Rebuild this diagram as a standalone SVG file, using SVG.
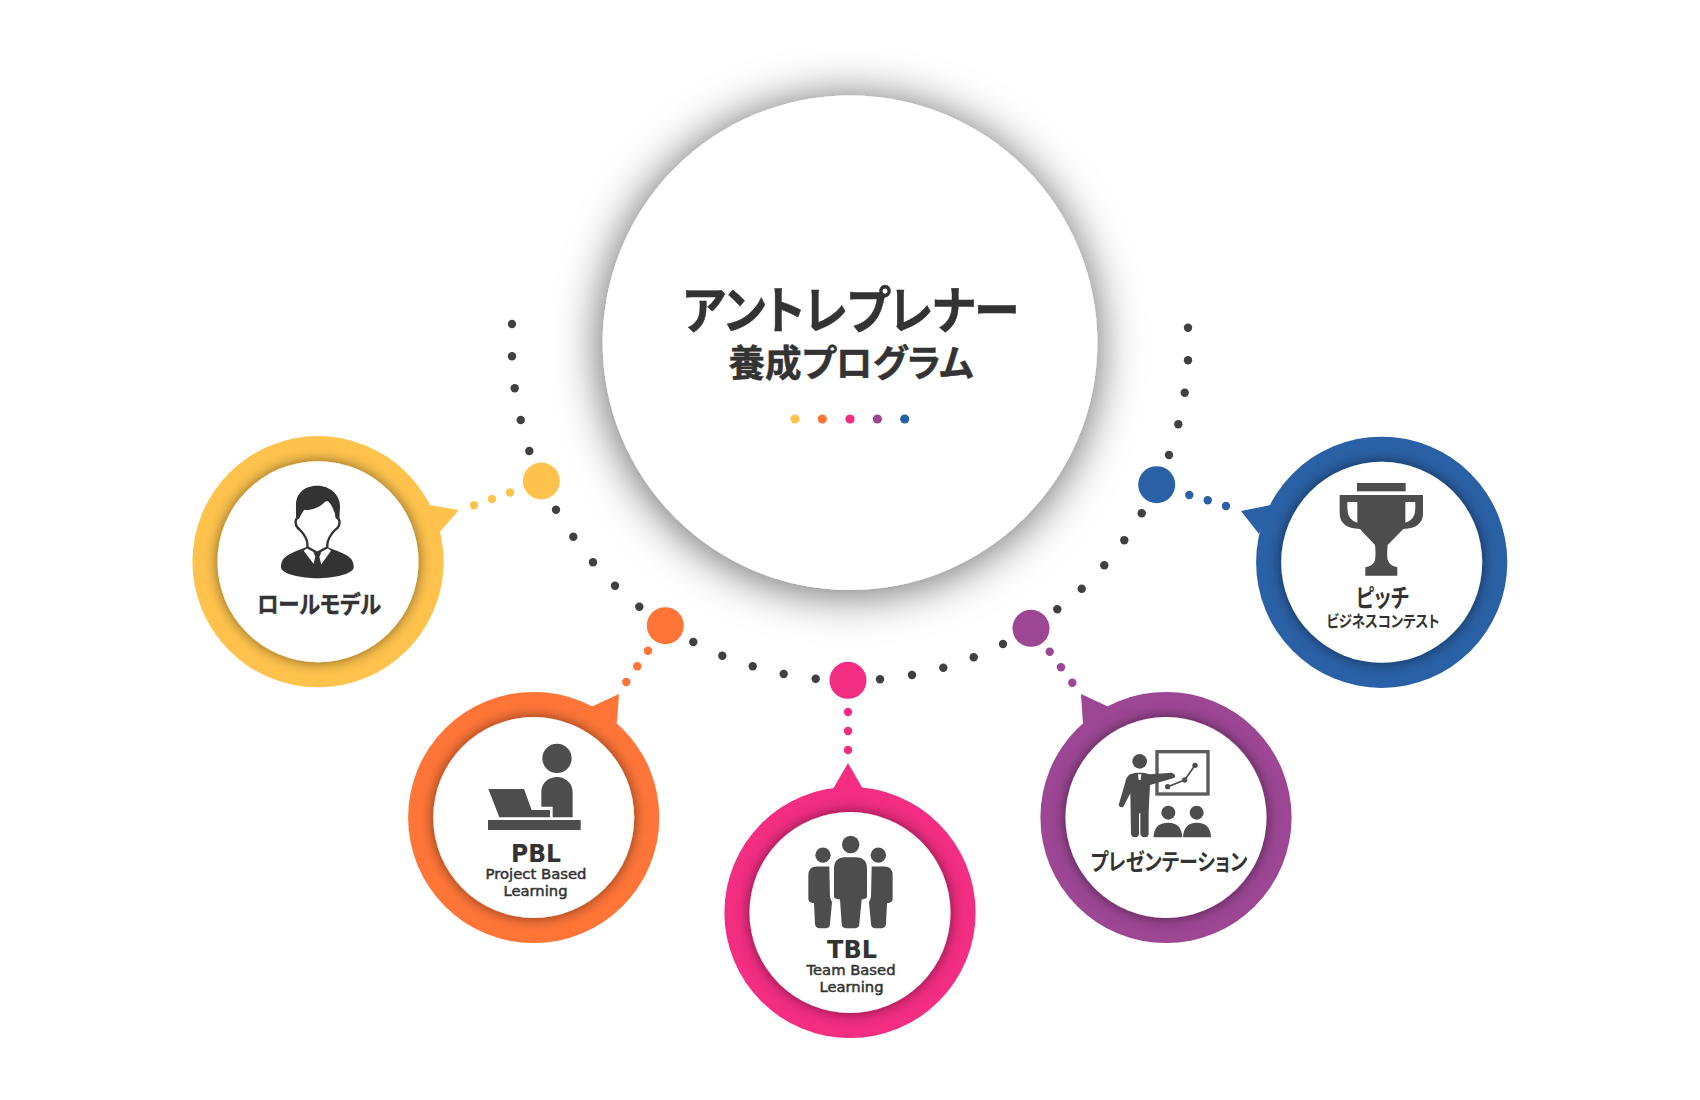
<svg xmlns="http://www.w3.org/2000/svg" width="1700" height="1100" viewBox="0 0 1700 1100">
<defs>
<style>
.jp{font-family:"Noto Sans CJK JP","Noto Sans",sans-serif;font-weight:700;fill:#333;text-anchor:middle;font-feature-settings:"palt"}
.t{stroke:#333;stroke-width:.5}
.en{font-family:"DejaVu Sans","Liberation Sans",sans-serif;fill:#333;text-anchor:middle}
.b{font-weight:700}
.s{stroke:#333;stroke-width:.5}
.d{fill:#404040}
.y{fill:#FFC34D}.o{fill:#FF7538}.p{fill:#F22D82}.u{fill:#9C4694}.l{fill:#2A60A5}
.hole{fill:#fff;filter:url(#inner)}
.ic{fill:#4d4d4d}
</style>
<filter id="big" x="-30%" y="-30%" width="160%" height="160%"><feDropShadow dx="-1" dy="3" stdDeviation="23" flood-color="#000" flood-opacity=".62"/></filter>
<filter id="inner" x="-30%" y="-30%" width="160%" height="160%"><feDropShadow dx="0" dy="0" stdDeviation="7" flood-color="#000" flood-opacity=".52"/></filter>
</defs>
<rect width="1700" height="1100" fill="#fff"/>
<g id="center">
<circle cx="850" cy="342.7" r="247.3" fill="#fff" filter="url(#big)"/>
<text class="jp t" x="851" y="329" font-size="51" textLength="336" lengthAdjust="spacingAndGlyphs">アントレプレナー</text>
<text class="jp t" x="851" y="377" font-size="37" textLength="245" lengthAdjust="spacingAndGlyphs">養成プログラム</text>
<circle class="y" cx="795" cy="419" r="4.6"/><circle class="o" cx="822.3" cy="419" r="4.6"/><circle class="p" cx="850" cy="419" r="4.6"/><circle class="u" cx="877.4" cy="419" r="4.6"/><circle class="l" cx="904.7" cy="419" r="4.6"/>
</g>
<g id="connectors">
<g class="d">
<circle cx="512" cy="324" r="4.2"/><circle cx="512" cy="356.3" r="4.2"/><circle cx="514.7" cy="388.3" r="4.2"/><circle cx="520.7" cy="420" r="4.2"/><circle cx="529.3" cy="451" r="4.2"/><circle cx="556" cy="509.7" r="4.2"/><circle cx="573.3" cy="536.7" r="4.2"/><circle cx="593" cy="562.3" r="4.2"/><circle cx="615" cy="585.7" r="4.2"/><circle cx="639.3" cy="606.7" r="4.2"/><circle cx="693.3" cy="642" r="4.2"/><circle cx="722.3" cy="655.7" r="4.2"/><circle cx="752.7" cy="666.3" r="4.2"/><circle cx="783.7" cy="674" r="4.2"/><circle cx="815.7" cy="678.7" r="4.2"/>
<circle cx="1188" cy="327.7" r="4.2"/><circle cx="1188" cy="360.3" r="4.2"/><circle cx="1184.7" cy="392.7" r="4.2"/><circle cx="1178.3" cy="424.3" r="4.2"/><circle cx="1169" cy="455" r="4.2"/><circle cx="1141.7" cy="513.3" r="4.2"/><circle cx="1124.3" cy="540.3" r="4.2"/><circle cx="1104.3" cy="565.3" r="4.2"/><circle cx="1081.7" cy="588.7" r="4.2"/><circle cx="1057.3" cy="609.3" r="4.2"/><circle cx="1003" cy="644" r="4.2"/><circle cx="973.7" cy="657.3" r="4.2"/><circle cx="943.3" cy="667.7" r="4.2"/><circle cx="912" cy="675" r="4.2"/><circle cx="880" cy="679.3" r="4.2"/>
</g>
<g class="y"><circle cx="541.3" cy="481" r="18.5"/><circle cx="510" cy="492.5" r="4.2"/><circle cx="492" cy="499" r="4.2"/><circle cx="474" cy="505.3" r="4.2"/></g>
<g class="o"><circle cx="665.3" cy="625.7" r="18.5"/><circle cx="648" cy="650.7" r="4.2"/><circle cx="637.3" cy="666.3" r="4.2"/><circle cx="626.3" cy="682" r="4.2"/></g>
<g class="p"><circle cx="848" cy="680.3" r="18.5"/><circle cx="848" cy="712" r="4.2"/><circle cx="848" cy="731" r="4.2"/><circle cx="848" cy="750" r="4.2"/></g>
<g class="u"><circle cx="1031" cy="628.3" r="18.5"/><circle cx="1049.7" cy="651.7" r="4.2"/><circle cx="1061" cy="667.3" r="4.2"/><circle cx="1072.3" cy="682.7" r="4.2"/></g>
<g class="l"><circle cx="1156.7" cy="484.7" r="18.5"/><circle cx="1189.3" cy="495" r="4.2"/><circle cx="1207.7" cy="500.3" r="4.2"/><circle cx="1226" cy="506" r="4.2"/></g>
</g>
<g id="role-model">
<polygon class="y" points="429,505 459,510 439,533"/>
<circle class="y" cx="318" cy="561.7" r="125.6"/>
<circle class="hole" cx="318" cy="561.7" r="100.5"/>
<g transform="translate(170,420) scale(.33333)" fill="#333">
<path d="M333,442C333,412 352,403 408,382L472,382C530,403 551,412 551,442C551,462 490,475 442,475C395,475 333,462 333,442Z"/>
<path fill="#fff" d="M401,392L417,380L467,380L483,392L452,436L434,436Z"/>
<path d="M430,397L454,397L448,410L455,438L442,448L429,438L436,410Z"/>
<path fill="#fff" stroke="#333" stroke-width="7" d="M385,292C372,298 375,320 390,330C405,345 415,360 412,382L442,398L472,382C470,360 480,345 495,330C512,320 512,298 500,292L495,240L395,240Z"/>
<path d="M378,262C375,215 410,196 443,197C480,197 512,225 510,262L508,296L498,292C492,268 482,248 470,240C450,265 420,272 402,270L386,296L378,290Z"/>
</g>
<text class="jp t" x="319" y="613" font-size="24" textLength="124" lengthAdjust="spacingAndGlyphs">ロールモデル</text>
</g>
<g id="pbl">
<polygon class="o" points="591,707 619,694 617,723"/>
<circle class="o" cx="533.7" cy="817.5" r="125.6"/>
<circle class="hole" cx="533.7" cy="817.5" r="100.5"/>
<g class="ic" transform="translate(400,680) scale(.33333)">
<circle cx="471" cy="235" r="44"/>
<path d="M424,380L424,335C424,305 450,291 471,291C495,291 518,310 518,335L518,412L458,412L458,380Z"/>
<path d="M265,327L372,327L395,390L450,390L450,412L298,412Z"/>
<rect x="264" y="420" width="278" height="30"/>
</g>
<text class="en b" x="536" y="862" font-size="24" textLength="50" lengthAdjust="spacingAndGlyphs">PBL</text>
<text class="en s" x="536" y="879" font-size="14.5" textLength="101" lengthAdjust="spacingAndGlyphs">Project Based</text>
<text class="en s" x="535.5" y="896" font-size="14.5" textLength="64" lengthAdjust="spacingAndGlyphs">Learning</text>
</g>
<g id="tbl">
<polygon class="p" points="833,789 848,763 863,789"/>
<circle class="p" cx="850" cy="912.5" r="125.6"/>
<circle class="hole" cx="850" cy="912.5" r="100.5"/>
<g class="ic" transform="translate(720,760.5) scale(.33333)">
<circle cx="392" cy="252" r="26"/>
<path d="M342,325Q342,290 375,290L408,290Q441,290 441,325L441,408Q441,415 425,417L418,490Q418,503 405,503L378,503Q366,503 365,490L360,417Q342,415 342,408Z"/>
<circle cx="309" cy="284" r="23"/>
<path d="M328,318L330,410L336,425L330,490Q330,503 318,503L298,503Q286,503 285,490L282,428Q265,428 265,415L265,345Q265,318 290,318Z"/>
<circle cx="475" cy="284" r="23"/>
<path transform="matrix(-1 0 0 1 783 0)" d="M328,318L330,410L336,425L330,490Q330,503 318,503L298,503Q286,503 285,490L282,428Q265,428 265,415L265,345Q265,318 290,318Z"/>
</g>
<text class="en b" x="852" y="958" font-size="24" textLength="50" lengthAdjust="spacingAndGlyphs">TBL</text>
<text class="en s" x="851" y="975" font-size="14.5" textLength="89" lengthAdjust="spacingAndGlyphs">Team Based</text>
<text class="en s" x="851.5" y="992" font-size="14.5" textLength="64" lengthAdjust="spacingAndGlyphs">Learning</text>
</g>
<g id="presentation">
<polygon class="u" points="1081,694 1109,707 1083,724"/>
<circle class="u" cx="1166" cy="817.5" r="125.6"/>
<circle class="hole" cx="1166" cy="817.5" r="100.5"/>
<g class="ic" transform="translate(1030,680) scale(.33333)">
<rect x="381" y="215" width="153" height="127" fill="none" stroke="#5c5c5c" stroke-width="10"/>
<path d="M413,320L464,300L495,256" fill="none" stroke="#4d4d4d" stroke-width="5"/>
<circle cx="413" cy="320" r="8"/><circle cx="464" cy="300" r="8"/><circle cx="495" cy="256" r="8"/>
<circle cx="329" cy="244" r="22"/>
<path d="M300,283L318,278L340,278L360,283L425,278Q442,285 432,294L360,315L356,395L356,460Q356,472 345,472Q331,472 331,460L331,400L327,400L327,460Q327,472 315,472Q303,472 303,460L301,340L280,380Q270,385 266,375L285,310Q288,290 300,283Z"/>
<path fill="#fff" d="M324,283L334,283L332,300L326,300Z"/>
<circle cx="415" cy="398" r="21"/><path d="M371,472Q371,428 415,428Q455,428 457,472Z"/>
<circle cx="500" cy="398" r="21"/><path d="M459,472Q461,428 500,428Q542,428 543,472Z"/>
</g>
<text class="jp" x="1169" y="870" font-size="23" textLength="157" lengthAdjust="spacingAndGlyphs">プレゼンテーション</text>
</g>
<g id="pitch">
<polygon class="l" points="1241,511 1271,505 1259,534"/>
<circle class="l" cx="1381.7" cy="562.3" r="125.6"/>
<circle class="hole" cx="1381.7" cy="562.3" r="100.5"/>
<g class="ic" transform="translate(1240,430) scale(.33333)">
<rect x="351" y="159" width="146" height="25"/>
<path fill-rule="evenodd" d="M299,195L549,195L549,250Q549,295 490,297L443,345Q440,375 443,390Q450,408 472,412L472,437L376,437L376,412Q400,408 405,390Q408,375 405,345L360,297Q299,295 299,250ZM322,216L352,216L352,278Q322,270 322,235ZM496,216L526,216L526,235Q526,270 496,278Z"/>
</g>
<text class="jp" x="1382.5" y="607" font-size="25" textLength="53" lengthAdjust="spacingAndGlyphs">ピッチ</text>
<text class="jp" x="1383" y="627" font-size="16" textLength="113" lengthAdjust="spacingAndGlyphs">ビジネスコンテスト</text>
</g>
</svg>
